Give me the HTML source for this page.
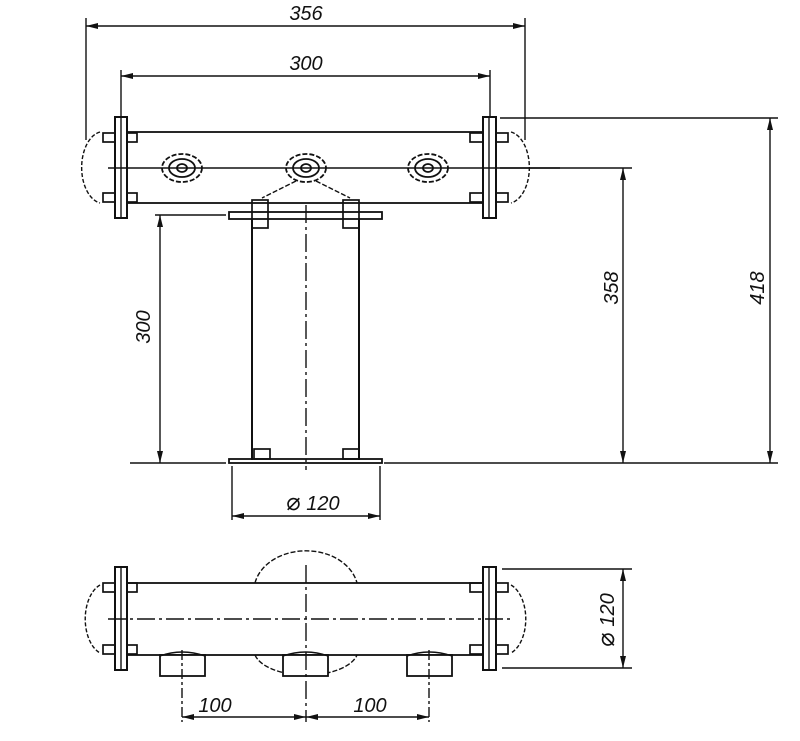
<!DOCTYPE html>
<html><head><meta charset="utf-8"><style>
html,body{margin:0;padding:0;background:#fff;}
svg{display:block;}
text{font-family:"Liberation Sans",sans-serif;font-style:italic;font-size:20px;fill:#111;}
.d{font-size:24px;font-style:normal;}
</style></head><body>
<svg width="800" height="741" viewBox="0 0 800 741" xmlns="http://www.w3.org/2000/svg">
<defs>
<marker id="a" viewBox="0 0 12 6" refX="12" refY="3" markerWidth="12" markerHeight="6" orient="auto-start-reverse" markerUnits="userSpaceOnUse"><path d="M0,0 L12,3 L0,6 Z" fill="#111"/></marker>
</defs>
<g stroke="#111" fill="none" stroke-width="1.4">
<line x1="86" y1="18" x2="86" y2="140"/>
<line x1="525" y1="18" x2="525" y2="140"/>
<line x1="86" y1="26" x2="525" y2="26" marker-start="url(#a)" marker-end="url(#a)"/>
<line x1="121" y1="70" x2="121" y2="118"/>
<line x1="490" y1="70" x2="490" y2="118"/>
<line x1="121" y1="76" x2="490" y2="76" marker-start="url(#a)" marker-end="url(#a)"/>
<line x1="500" y1="118" x2="778" y2="118"/>
<line x1="500" y1="168" x2="632" y2="168"/>
<line x1="384" y1="463" x2="778" y2="463"/>
<line x1="130" y1="463" x2="226" y2="463"/>
<line x1="770" y1="118" x2="770" y2="463" marker-start="url(#a)" marker-end="url(#a)"/>
<line x1="623" y1="168" x2="623" y2="463" marker-start="url(#a)" marker-end="url(#a)"/>
<line x1="155" y1="215" x2="226" y2="215"/>
<line x1="160" y1="215" x2="160" y2="463" marker-start="url(#a)" marker-end="url(#a)"/>
<rect x="127" y="132" width="356" height="71" stroke-width="1.8"/>
<rect x="115" y="117" width="12" height="101" stroke-width="2"/>
<rect x="483" y="117" width="13" height="101" stroke-width="2"/>
<line x1="121" y1="117" x2="121" y2="218"/>
<line x1="489" y1="117" x2="489" y2="218"/>
<line x1="108" y1="168" x2="560" y2="168"/>
<path d="M100,132 A22,36 0 0,0 100,203" stroke-dasharray="4,2"/>
<path d="M511,132 A22,36 0 0,1 511,203" stroke-dasharray="4,2"/>
<g stroke-width="1.7">
<rect x="103" y="133" width="12" height="9"/><rect x="127" y="133" width="10" height="9"/>
<rect x="103" y="193" width="12" height="9"/><rect x="127" y="193" width="10" height="9"/>
<rect x="470" y="133" width="13" height="9"/><rect x="496" y="133" width="12" height="9"/>
<rect x="470" y="193" width="13" height="9"/><rect x="496" y="193" width="12" height="9"/>
</g>
<g stroke-width="1.8">
<ellipse cx="182" cy="168" rx="20" ry="14" stroke-dasharray="5,2"/><ellipse cx="182" cy="168" rx="13" ry="9"/><ellipse cx="182" cy="168" rx="5" ry="4"/>
<ellipse cx="306" cy="168" rx="20" ry="14" stroke-dasharray="5,2"/><ellipse cx="306" cy="168" rx="13" ry="9"/><ellipse cx="306" cy="168" rx="5" ry="4"/>
<ellipse cx="428" cy="168" rx="20" ry="14" stroke-dasharray="5,2"/><ellipse cx="428" cy="168" rx="13" ry="9"/><ellipse cx="428" cy="168" rx="5" ry="4"/>
</g>
<path d="M296,181 L262,198" stroke-dasharray="5,2"/>
<path d="M316,181 L350,198" stroke-dasharray="5,2"/>
<rect x="229" y="212" width="153" height="7" stroke-width="1.8"/>
<line x1="252" y1="219" x2="252" y2="460" stroke-width="2"/>
<line x1="359" y1="219" x2="359" y2="460" stroke-width="2"/>
<line x1="306" y1="205" x2="306" y2="470" stroke-dasharray="18,4,3,4"/>
<rect x="252" y="200" width="16" height="28" stroke-width="1.7"/>
<rect x="343" y="200" width="16" height="28" stroke-width="1.7"/>
<rect x="229" y="459" width="153" height="4" stroke-width="1.8"/>
<rect x="254" y="449" width="16" height="10" stroke-width="1.7"/>
<rect x="343" y="449" width="16" height="10" stroke-width="1.7"/>
<line x1="232" y1="466" x2="232" y2="520"/>
<line x1="380" y1="466" x2="380" y2="520"/>
<line x1="232" y1="516" x2="380" y2="516" marker-start="url(#a)" marker-end="url(#a)"/>
<path d="M255,583 A52,40 0 0,1 357,583" stroke-dasharray="5,2"/>
<path d="M255,655 A52,25 0 0,0 357,655" stroke-dasharray="5,2"/>
<rect x="127" y="583" width="356" height="72" stroke-width="1.8" fill="none"/>
<rect x="115" y="567" width="12" height="103" stroke-width="2"/>
<rect x="483" y="567" width="13" height="103" stroke-width="2"/>
<line x1="121" y1="567" x2="121" y2="670"/>
<line x1="489" y1="567" x2="489" y2="670"/>
<line x1="108" y1="619" x2="510" y2="619" stroke-dasharray="18,4,3,4"/>
<path d="M100,585 A22,36 0 0,0 100,653" stroke-dasharray="4,2"/>
<path d="M511,585 A22,36 0 0,1 511,653" stroke-dasharray="4,2"/>
<g stroke-width="1.7">
<rect x="103" y="583" width="12" height="9"/><rect x="127" y="583" width="10" height="9"/>
<rect x="103" y="645" width="12" height="9"/><rect x="127" y="645" width="10" height="9"/>
<rect x="470" y="583" width="13" height="9"/><rect x="496" y="583" width="12" height="9"/>
<rect x="470" y="645" width="13" height="9"/><rect x="496" y="645" width="12" height="9"/>
</g>
<g stroke-width="1.8" fill="#fff">
<rect x="160" y="655" width="45" height="21"/>
<rect x="283" y="655" width="45" height="21"/>
<rect x="407" y="655" width="45" height="21"/>
</g>
<path d="M160,656 Q182,648 205,656" />
<path d="M283,656 Q306,648 328,656" />
<path d="M407,656 Q429,648 452,656" />
<line x1="182" y1="650" x2="182" y2="722" stroke-dasharray="10,3,3,3"/>
<line x1="306" y1="565" x2="306" y2="722" stroke-dasharray="18,4,3,4"/>
<line x1="429" y1="650" x2="429" y2="722" stroke-dasharray="10,3,3,3"/>
<line x1="182" y1="717" x2="306" y2="717" marker-start="url(#a)" marker-end="url(#a)"/>
<line x1="306" y1="717" x2="429" y2="717" marker-start="url(#a)" marker-end="url(#a)"/>
<line x1="502" y1="569" x2="632" y2="569"/>
<line x1="502" y1="668" x2="632" y2="668"/>
<line x1="623" y1="569" x2="623" y2="668" marker-start="url(#a)" marker-end="url(#a)"/>
</g>
<text x="306" y="20" text-anchor="middle">356</text>
<text x="306" y="70" text-anchor="middle">300</text>
<text x="313" y="510" text-anchor="middle"><tspan class="d">⌀</tspan> 120</text>
<text x="215" y="712" text-anchor="middle">100</text>
<text x="370" y="712" text-anchor="middle">100</text>
<text transform="translate(150,327) rotate(-90)" text-anchor="middle">300</text>
<text transform="translate(618,288) rotate(-90)" text-anchor="middle">358</text>
<text transform="translate(764,288) rotate(-90)" text-anchor="middle">418</text>
<text transform="translate(614,620) rotate(-90)" text-anchor="middle"><tspan class="d">⌀</tspan> 120</text>
</svg>
</body></html>
